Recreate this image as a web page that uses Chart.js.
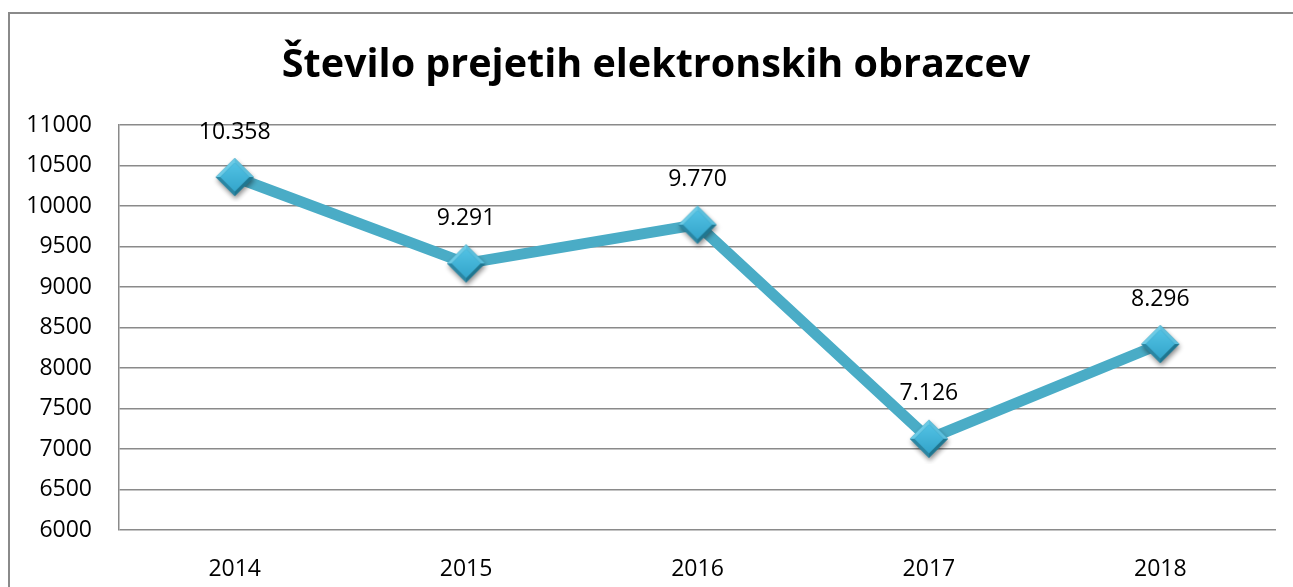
<!DOCTYPE html>
<html>
<head>
<meta charset="utf-8">
<script src="https://cdn.jsdelivr.net/npm/chart.js@4.4.1/dist/chart.umd.min.js"></script>
<style>
  html, body { margin: 0; padding: 0; background: #fff; }
  #wrap { width: 1293px; height: 587px; }
</style>
</head>
<body>
<div id="wrap"><canvas id="chart" width="1293" height="587"></canvas></div>
<script>
const years = ['2014', '2015', '2016', '2017', '2018'];
const forms = [10358, 9291, 9770, 7126, 8296];
const yMin = 6000;
const yMax = 11000;
const yStep = 500;

const FONT = '"Open Sans", "Noto Sans", sans-serif';

// bevelled diamond used as the marker
function makeDiamond() {
    const c = document.createElement('canvas');
    c.width = 50; c.height = 50;
    const g = c.getContext('2d');
    const cx = 25, cy = 25, r = 19, ri = 14.5;
    g.save();
    g.shadowColor = 'rgba(0,0,0,0.45)';
    g.shadowBlur = 5;
    g.shadowOffsetX = 1;
    g.shadowOffsetY = 3;
    g.beginPath();
    g.moveTo(cx, cy - r); g.lineTo(cx + r, cy); g.lineTo(cx, cy + r); g.lineTo(cx - r, cy);
    g.closePath();
    g.fillStyle = '#2a88a6';
    g.fill();
    g.restore();
    const faces = [
        [[cx, cy - r], [cx + r, cy], [cx + ri, cy], [cx, cy - ri], '#5bbfdd'],
        [[cx + r, cy], [cx, cy + r], [cx, cy + ri], [cx + ri, cy], '#1f7690'],
        [[cx, cy + r], [cx - r, cy], [cx - ri, cy], [cx, cy + ri], '#2a86a3'],
        [[cx - r, cy], [cx, cy - r], [cx, cy - ri], [cx - ri, cy], '#6ccbe6']
    ];
    faces.forEach(f => {
        g.beginPath();
        g.moveTo(f[0][0], f[0][1]);
        for (let i = 1; i < 4; i++) g.lineTo(f[i][0], f[i][1]);
        g.closePath();
        g.fillStyle = f[4];
        g.fill();
    });
    const grad = g.createLinearGradient(cx, cy - ri, cx, cy + ri);
    grad.addColorStop(0, '#52c2e4');
    grad.addColorStop(1, '#34a5cb');
    g.beginPath();
    g.moveTo(cx, cy - ri); g.lineTo(cx + ri, cy); g.lineTo(cx, cy + ri); g.lineTo(cx - ri, cy);
    g.closePath();
    g.fillStyle = grad;
    g.fill();
    return c;
}

const frame = {
    id: 'frame',
    // the title sits a little right of the canvas centre in the original
    afterLayout(chart) {
        if (chart.titleBlock) {
            chart.titleBlock.left = 36;
            chart.titleBlock.right = 1276;
        }
    },
    beforeDraw(chart) {
        const ctx = chart.ctx;
        ctx.save();
        ctx.strokeStyle = '#8a8a8a';
        ctx.lineWidth = 2;
        ctx.strokeRect(9, 13, 1400, 700);
        ctx.restore();
    }
};

const valueLabels = {
    id: 'valueLabels',
    afterDatasetsDraw(chart) {
        const ctx = chart.ctx;
        const meta = chart.getDatasetMeta(0);
        ctx.save();
        ctx.font = '23px ' + FONT;
        ctx.fillStyle = '#000';
        ctx.textAlign = 'center';
        ctx.textBaseline = 'middle';
        meta.data.forEach((pt, i) => {
            const txt = forms[i].toString().replace(/\B(?=(\d{3})+(?!\d))/g, '.');
            ctx.fillText(txt, pt.x, pt.y - 45);
        });
        ctx.restore();
    }
};

new Chart(document.getElementById('chart'), {
    type: 'line',
    data: {
        labels: years,
        datasets: [{
            data: forms,
            borderColor: '#4aacc6',
            borderWidth: 11,
            tension: 0,
            pointStyle: makeDiamond(),
            pointRadius: 19,
            pointHoverRadius: 19
        }]
    },
    options: {
        responsive: false,
        animation: false,
        layout: { autoPadding: false, padding: { left: 0, right: 17, top: 0, bottom: 0 } },
        plugins: {
            legend: { display: false },
            tooltip: { enabled: false },
            title: {
                display: true,
                text: 'Število prejetih elektronskih obrazcev',
                color: '#000',
                font: { family: FONT, size: 39.5, weight: 'bold', lineHeight: 1.2 },
                padding: { top: 42, bottom: 35.6 }
            }
        },
        scales: {
            x: {
                offset: true,
                grid: { display: false },
                border: { display: false },
                ticks: { color: '#000', font: { family: FONT, size: 23 }, padding: 18 },
                afterFit(s) {
                    s.height = 57;
                    s.paddingLeft = 0;
                    s.paddingRight = 0;
                }
            },
            y: {
                min: yMin,
                max: yMax,
                grid: { color: '#8a8a8a', lineWidth: 1.5, drawTicks: false },
                border: { display: true, color: '#8a8a8a', width: 1.5 },
                ticks: {
                    stepSize: yStep,
                    color: '#000',
                    font: { family: FONT, size: 23 },
                    padding: 27,
                    callback: v => String(v)
                },
                afterFit(s) { s.width = 119; }
            }
        }
    },
    plugins: [frame, valueLabels]
});
</script>
</body>
</html>
